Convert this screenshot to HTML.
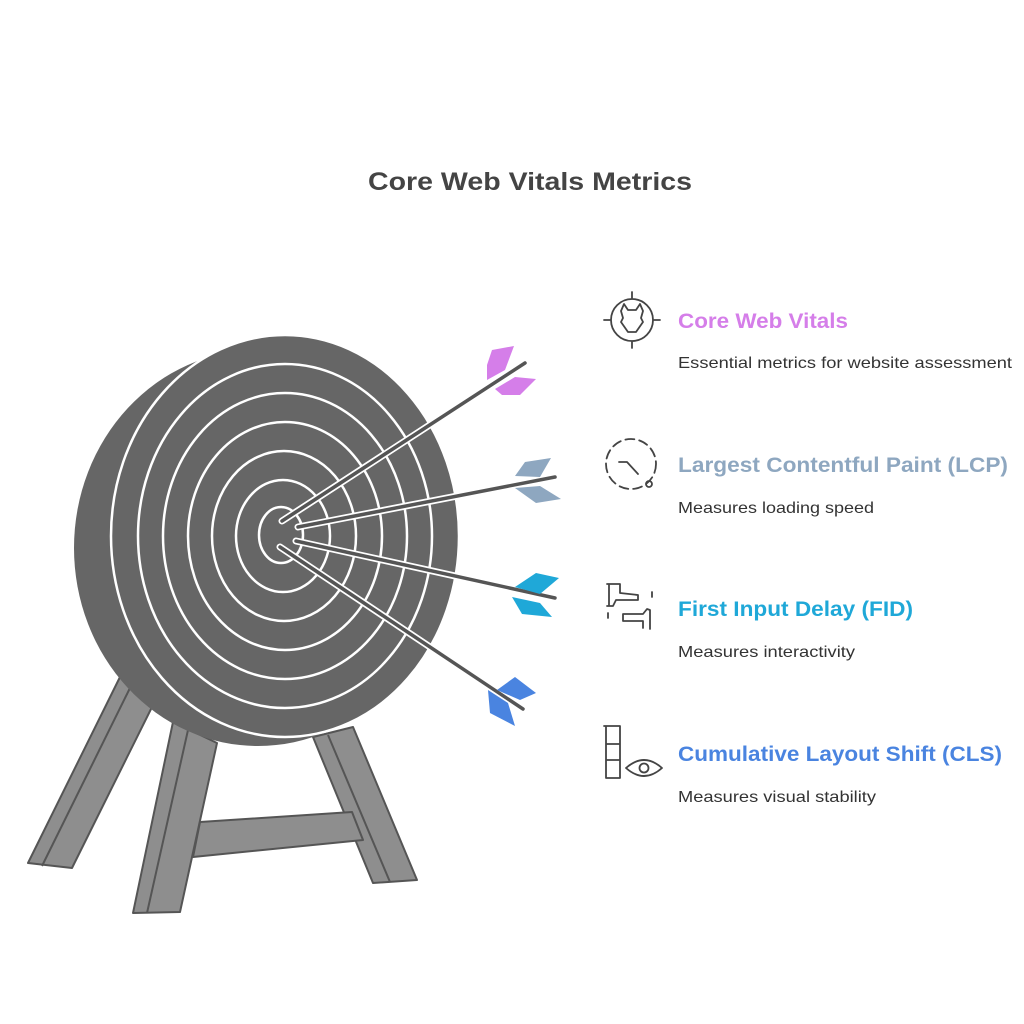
<!DOCTYPE html>
<html><head><meta charset="utf-8"><style>html,body{margin:0;padding:0;background:#fff}svg{display:block}</style></head>
<body>
<svg width="1024" height="1024" viewBox="0 0 1024 1024" xmlns="http://www.w3.org/2000/svg" font-family="Liberation Sans, sans-serif">
<rect width="1024" height="1024" fill="#fff"/>
<text x="368" y="190" font-size="25" font-weight="bold" fill="#444" textLength="324" lengthAdjust="spacingAndGlyphs">Core Web Vitals Metrics</text>

<!-- legs -->
<g fill="#8e8e8e" stroke="#555" stroke-width="2" stroke-linejoin="round">
<polygon points="120,677 152,707 72,868 28,863"/>
<line x1="130" y1="688" x2="42" y2="866"/>
<polygon points="313,737 353,727 417,880 373,883"/>
<line x1="328" y1="735" x2="390" y2="882"/>
<polygon points="200,822 352,812 363,840 193,857"/>
<polygon points="173,722 217,743 180,912 133,913"/>
<line x1="188" y1="730" x2="147" y2="913"/>
</g>

<!-- back disc -->
<ellipse cx="258" cy="548" rx="184" ry="198" fill="#666"/>
<ellipse cx="285" cy="536" rx="174" ry="201" fill="#666" stroke="#fff" stroke-width="2.5"/>
<g fill="none" stroke="#fff" stroke-width="2.5">
<ellipse cx="285" cy="536" rx="147" ry="172"/>
<ellipse cx="285" cy="536" rx="122" ry="143"/>
<ellipse cx="285" cy="536" rx="97" ry="114"/>
<ellipse cx="284" cy="536" rx="72" ry="85"/>
<ellipse cx="283" cy="536" rx="47" ry="56"/>
<ellipse cx="281" cy="535" rx="22" ry="28"/>
</g>

<!-- arrows -->
<g stroke-linecap="round">
<g stroke="#fff" stroke-width="7">
<line x1="282" y1="521" x2="525" y2="363"/>
<line x1="298" y1="527" x2="555" y2="477"/>
<line x1="296" y1="541" x2="555" y2="598"/>
<line x1="280" y1="547" x2="523" y2="709"/>
</g>
<g stroke="#555" stroke-width="3.5">
<line x1="282" y1="521" x2="525" y2="363"/>
<line x1="298" y1="527" x2="555" y2="477"/>
<line x1="296" y1="541" x2="555" y2="598"/>
<line x1="280" y1="547" x2="523" y2="709"/>
</g>
</g>
<!-- fletching -->
<polygon points="487,365 492,350 514,346 505,370 487,380" fill="#d57ee9"/>
<polygon points="495,389 515,377 536,379 520,395 502,395" fill="#d57ee9"/>
<polygon points="515,476 525,462 551,458 540,477" fill="#8ea7c0"/>
<polygon points="515,488 540,486 561,499 536,503" fill="#8ea7c0"/>
<polygon points="515,587 536,573 559,578 540,594" fill="#1fa8d8"/>
<polygon points="512,597 540,603 552,617 522,614" fill="#1fa8d8"/>
<polygon points="497,690 515,677 536,693 520,700" fill="#4a84e0"/>
<polygon points="488,690 508,703 515,726 490,713" fill="#4a84e0"/>

<!-- icons -->
<g fill="none" stroke="#444" stroke-width="1.8" stroke-linecap="round" stroke-linejoin="round">
<circle cx="632" cy="320" r="21"/>
<line x1="632" y1="292" x2="632" y2="298"/><line x1="632" y1="342" x2="632" y2="348"/>
<line x1="604" y1="320" x2="610" y2="320"/><line x1="654" y1="320" x2="660" y2="320"/>
<path d="M621,311 L624,304 L628,310 L636,310 L640,304 L643,311 L641,318 L643,322 L636,332 L628,332 L621,322 L623,318 Z"/>
<circle cx="631" cy="464" r="25" stroke-dasharray="9 5"/>
<path d="M619,462 L627,462 L638,474"/>
<circle cx="649" cy="484" r="3"/>
<path d="M607,584 L620,584 L620,593 L638,595 L638,600 L616,600 L613,606 L607,606 M609,584 L609,606"/>
<path d="M652,592 L652,597 M608,613 L608,618 M623,614 L643,614 L647,609 L650,610 L650,629 M623,614 L623,621 L643,621 L643,628"/>
<path d="M604,726 L620,726 L620,778 L606,778 L606,726 M606,744 L620,744 M606,760 L620,760"/>
<path d="M626,768 Q644,752 662,768 Q644,784 626,768 Z"/>
<circle cx="644" cy="768" r="4.5"/>
</g>

<!-- labels -->
<g font-weight="bold" font-size="21">
<text x="678" y="328" fill="#d57ee9" textLength="170" lengthAdjust="spacingAndGlyphs">Core Web Vitals</text>
<text x="678" y="472" fill="#8ea7c0" textLength="330" lengthAdjust="spacingAndGlyphs">Largest Contentful Paint (LCP)</text>
<text x="678" y="616" fill="#1fa8d8" textLength="235" lengthAdjust="spacingAndGlyphs">First Input Delay (FID)</text>
<text x="678" y="761" fill="#4a84e0" textLength="324" lengthAdjust="spacingAndGlyphs">Cumulative Layout Shift (CLS)</text>
</g>
<g font-size="16" fill="#333">
<text x="678" y="368" textLength="334" lengthAdjust="spacingAndGlyphs">Essential metrics for website assessment</text>
<text x="678" y="513" textLength="196" lengthAdjust="spacingAndGlyphs">Measures loading speed</text>
<text x="678" y="657" textLength="177" lengthAdjust="spacingAndGlyphs">Measures interactivity</text>
<text x="678" y="802" textLength="198" lengthAdjust="spacingAndGlyphs">Measures visual stability</text>
</g>
</svg>
</body></html>
